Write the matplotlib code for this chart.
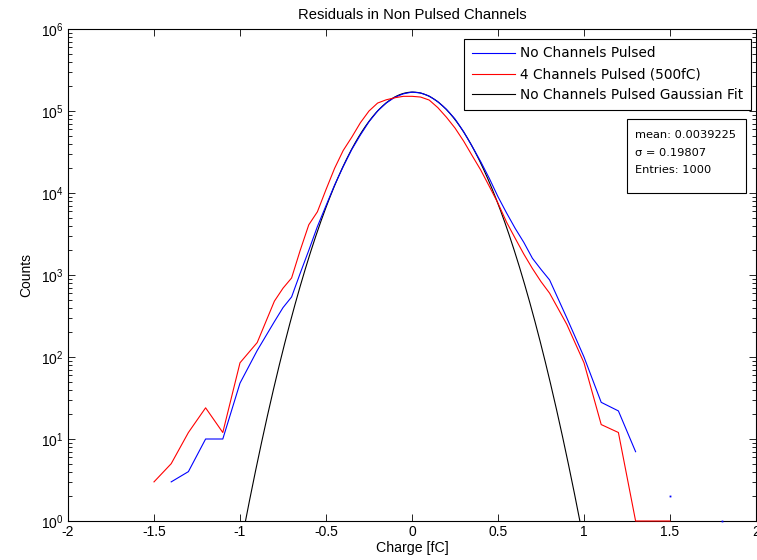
import numpy as np
import matplotlib
matplotlib.use("Agg")
import matplotlib.pyplot as plt
from matplotlib.patches import Rectangle

# bin centres [fC]
charge = [-1.5, -1.4, -1.3, -1.2, -1.1, -1.0, -0.9, -0.8, -0.75, -0.7, -0.65,
          -0.6, -0.55, -0.5, -0.45, -0.4, -0.35, -0.3, -0.25, -0.2, -0.15,
          -0.1, -0.05, 0.0, 0.05, 0.1, 0.15, 0.2, 0.25, 0.3, 0.35, 0.4, 0.45,
          0.5, 0.55, 0.6, 0.65, 0.7, 0.75, 0.8, 0.9, 1.0, 1.1, 1.2, 1.3,
          1.4, 1.5, 1.6, 1.7, 1.8]

nan = np.nan
no_pulse = [nan, 3, 4, 10, 10, 48, 120, 270, 400, 540, 1050,
            2000, 3900, 7000, 12500, 21000, 34000, 51000, 74000, 100000, 125000,
            147000, 162000, 170000, 166000, 152000, 130000, 105000, 80000, 56000, 37000, 24000, 15000,
            9000, 5700, 3700, 2500, 1600, 1170, 870, 300, 100, 28, 22, 7,
            nan, 2, nan, nan, 1]

pulse4 = [3, 5, 12, 24, 12, 85, 150, 480, 690, 920, 2000,
          4100, 5900, 11000, 20000, 33000, 48000, 72000, 100000, 125000, 137000,
          145000, 151000, 151000, 148000, 136000, 110000, 84000, 62000, 43000, 28500, 19000, 12000,
          7500, 4400, 2800, 1800, 1200, 830, 600, 250, 85, 15, 12, 1,
          1, 1, nan, nan, nan]

# gaussian fit parameters (from the stats box)
fit_mean = 0.0039225
fit_sigma = 0.19807
fit_amp = 170000
n_entries = 1000

plt.rcParams['font.family'] = ['Liberation Sans', 'DejaVu Sans']

fig = plt.figure(figsize=(7.57, 5.6), dpi=100)
ax = fig.add_axes([68 / 757, 1 - 521 / 560, 688 / 757, 492 / 560])

x = np.array(charge)
xf = np.linspace(-2, 2, 801)
yf = fit_amp * np.exp(-(xf - fit_mean) ** 2 / (2 * fit_sigma ** 2))

ax.plot(x, no_pulse, color='b', lw=0.8, clip_on=False, zorder=3,
        label='No Channels Pulsed')
ax.plot(x, pulse4, color='r', lw=0.8, clip_on=False, zorder=3,
        label='4 Channels Pulsed (500fC)')
ax.plot(xf, yf, color='k', lw=0.8, label='No Channels Pulsed Gaussian Fit')

# isolated bins (no neighbours) only show as a dot
yb = np.array(no_pulse, dtype=float)
iso = [i for i in range(len(yb)) if not np.isnan(yb[i])
       and (i == 0 or np.isnan(yb[i - 1])) and (i == len(yb) - 1 or np.isnan(yb[i + 1]))]
ax.plot(x[iso], yb[iso], 's', color='b', ms=1.3, mew=0, clip_on=False, zorder=3)

ax.set_yscale('log')
ax.set_xlim(-2, 2)
ax.set_ylim(1, 1e6)
ax.set_xticks([-2, -1.5, -1, -0.5, 0, 0.5, 1, 1.5, 2])
ax.set_xticklabels(['-2', '-1.5', '-1', '-0.5', '0', '0.5', '1', '1.5', '2'])
ax.tick_params(which='both', direction='in', top=True, right=True, labelsize=10)
ax.tick_params(which='major', length=5, width=0.6, pad=3)
ax.tick_params(which='minor', length=3, width=0.6)
for s in ax.spines.values():
    s.set_linewidth(0.8)

ax.set_title('Residuals in Non Pulsed Channels', fontsize=10.6, pad=7)
ax.set_xlabel('Charge [fC]', fontsize=10.2, labelpad=1)
ax.set_ylabel('Counts', fontsize=10, labelpad=6)

leg = ax.legend(loc='upper right', bbox_to_anchor=(0.9927, 0.9797), borderaxespad=0,
                fancybox=False, framealpha=1, edgecolor='k', handlelength=3.2,
                handletextpad=0.37, borderpad=0.55, labelspacing=0.5,
                prop={'family': 'DejaVu Sans', 'size': 9.8})
leg.get_frame().set_linewidth(0.8)

# stats box
ax.add_patch(Rectangle((0.8125, 0.6667), 0.173, 0.1504, transform=ax.transAxes,
                       fc='white', ec='k', lw=0.8, zorder=4))
stats = f"mean: {fit_mean}\n\u03c3 = {fit_sigma}\nEntries: {n_entries}"
ax.text(0.824, 0.7945, stats, transform=ax.transAxes, va='top', ha='left',
        fontsize=8.2, family='DejaVu Sans', linespacing=1.95, zorder=5)

fig.savefig('out.png', dpi=100)
